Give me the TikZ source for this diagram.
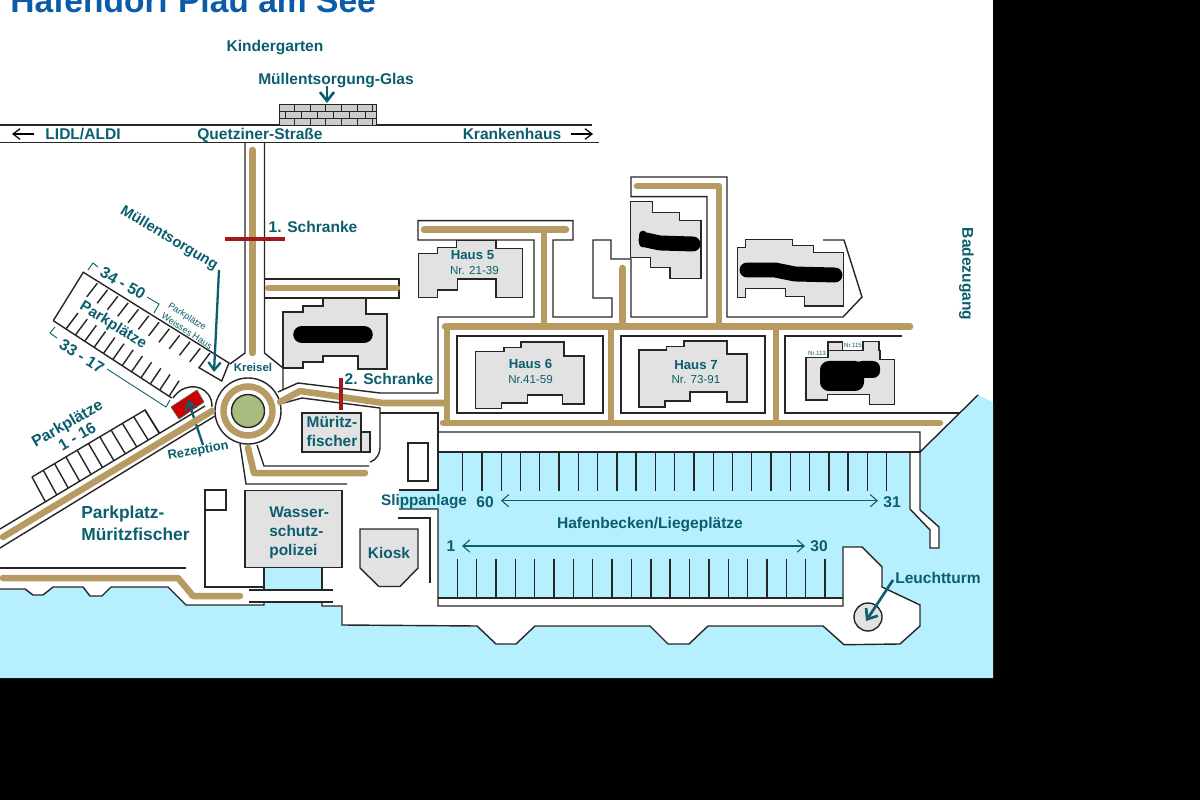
\documentclass[tikz,border=0pt]{standalone}
\usepackage{fontspec}
\setmainfont{Liberation Sans}
\usetikzlibrary{arrows.meta}
\definecolor{wat}{HTML}{B6F0FF}
\definecolor{teal2}{HTML}{0B5E6E}
\definecolor{bei}{HTML}{B89B63}
\definecolor{gry}{HTML}{E2E2E2}
\definecolor{titleblue}{HTML}{0B5CA8}
\definecolor{rd}{HTML}{A01A1A}
\definecolor{grn}{HTML}{A9BC80}
\newcommand{\fs}[1]{\fontsize{#1}{#1}\selectfont}
\tikzset{
  ln/.style={draw=black!85,line width=0.8pt,line join=miter},
  bld/.style={draw=black!85,fill=gry,line width=0.8pt},
  road/.style={draw=bei,line width=3.7pt,line cap=round,line join=round},
  bar/.style={draw=rd,line width=1.9pt},
  blob/.style={draw=black,line cap=round,line join=round},
  lb/.style={text=teal2,font=\bfseries\fs{8.85},inner sep=0pt,text height=6.3pt,text depth=0pt},
  lbb/.style={text=teal2,font=\bfseries\fs{9},inner sep=0pt,align=left,text height=6.5pt,text depth=0pt},
  thin/.style={text=teal2,font=\fs{5.2},inner sep=0pt},
  bark/.style={draw=teal2,line width=1.3pt,-{Straight Barb[length=4.5pt,width=7pt]}},
  dim/.style={draw=teal2,line width=0.6pt,{Straight Barb[length=4pt,width=7pt]}-{Straight Barb[length=4pt,width=7pt]}},
  tarrow/.style={draw=teal2,line width=1.5pt,-{Straight Barb[length=5pt,width=8pt]}},
  blk/.style={draw=black,line width=0.7pt,-{Straight Barb[length=4pt,width=6pt]}},
  brk/.style={draw=teal2,line width=0.5pt}
}
\begin{document}
\begin{tikzpicture}[x=0.02cm,y=-0.02cm]
\clip (0,0) rectangle (1200,800);
\fill[black] (0,0) rectangle (1200,800);
\fill[white] (0,0) rectangle (993,678);
% water
\fill[wat] (0,589)--(25,589)--(33,595)--(43,595)--(53,587)--(83,587)--(90,596)--(102,596)--(111,587)--(168,587)--(186,605)--(264,605)--(264,567)--(322,567)--(322,606)--(342,606)--(342,625)--(477,626)--(496,644)--(516,644)--(535,626)--(650,626)--(668,644)--(689,644)--(708,626)--(823,626)--(844,644.7)--(900,644)--(920,626)--(920,605)--(882,587)--(882,567)--(862,547)--(843,547)--(843,598)--(438,598)--(438,509)--(399,509)--(399,490)--(438,490)--(438,452)--(910,452)--(910,509)--(930,530)--(930,548)--(939,548)--(939,527)--(920,510)--(920,452)--(978,395)--(993,402)--(993,678)--(0,678)--cycle;
\fill[white] (249,590) rectangle (333,602);
% shore outlines
\draw[ln] (0,589)--(25,589)--(33,595)--(43,595)--(53,587)--(83,587)--(90,596)--(102,596)--(111,587)--(168,587)--(186,605)--(264,605)--(264,602);
\draw[ln] (322,602)--(322,606)--(342,606)--(342,625)--(477,626)--(496,644)--(516,644)--(535,626)--(650,626)--(668,644)--(689,644)--(708,626)--(823,626)--(844,644.7)--(900,644)--(920,626)--(920,605)--(882,587)--(882,567)--(862,547)--(843,547)--(843,606)--(438,606)--(438,509)--(399,509);
\draw[ln] (843,598)--(438,598);
\draw[ln] (399,490)--(438,490)--(438,412);
\draw[ln] (438,452)--(920,452);
\draw[ln] (438,432)--(920,432)--(920,452)--(978,395);
\draw[ln] (910,452)--(910,509)--(930,530)--(930,548)--(939,548)--(939,527)--(920,510)--(920,452);
\draw[ln] (249,590)--(333,590) (249,602)--(333,602) (264,567)--(264,590) (322,567)--(322,590);
% posts
\foreach \k in {0,...,22} \draw[ln] ({462.7+19.27*\k},452)--({462.7+19.27*\k},490.5);
\foreach \k in {0,...,19} \draw[ln] ({457.3+19.35*\k},559)--({457.3+19.35*\k},598);
% top street
\draw[ln] (0,125)--(592,125);
\draw[ln] (0,142.5)--(599,142.5);
\fill[gray!40] (279,104) rectangle (376.5,125);
\draw[ln,line width=0.5pt] (279,104) rectangle (376.5,125) (279,111)--(376.5,111) (279,118)--(376.5,118);
\foreach \x in {294,310,325,341,357,372} \draw[ln,line width=0.5pt] (\x,104)--(\x,111) (\x,118)--(\x,125);
\foreach \x in {285,301,317,333,349,365} \draw[ln,line width=0.5pt] (\x,111)--(\x,118);
% outlines of land plots
\draw[ln] (245,143)--(245,353)--(230,364);
\draw[ln] (264.5,143)--(264.5,353)--(283,368)--(283,389);
\draw[ln] (264.5,279)--(399,279)--(399,298)--(264.5,298);
\draw[ln] (278,392)--(298,383)--(380,393)--(438,393)--(438,317)--(534,317)--(534,240)--(418,240)--(418,220.7)--(573,220.7)--(573,240)--(553,240)--(553,317)--(612,317)--(612,298)--(593,298)--(593,240)--(611,240)--(611,259)--(631,259)--(631,317)--(707,317)--(707,196.6)--(631,196.6)--(631,177)--(727,177)--(727,317)--(843,317)--(862,297)--(844,240)--(823,240);
\draw[ln] (280,404)--(302,398)--(380,408)--(380,448) arc[start angle=0,end angle=70,radius=15] ;
\draw[ln] (380,413)--(438,413);
\draw[ln] (369,466)--(264,466)--(257,445);
\draw[ln] (240,444)--(246,484)--(347,484);
\draw[ln] (408,443) rectangle (428,481);
\draw[ln] (205,490) rectangle (226,510);
\draw[ln] (205,510)--(205,587)--(264,587);
\draw[ln] (0,568)--(186,568);
\draw[ln] (398,518)--(430,518)--(430,583);
\draw[ln] (457,336) rectangle (603,413);
\draw[ln] (621,336) rectangle (765,413);
\draw[ln] (902,336)--(785,336)--(785,413)--(960,413);
% diagonal road outlines
\draw[ln] (0,529)--(205,406);
\draw[ln] (0,548)--(215,416);
% parking 1-16
\draw[ln] (32,477)--(145,410)--(159,433);
\foreach \t in {0,...,10} \draw[ln] ({32+11.3*\t},{477-6.7*\t})--({45.5+11.4*\t},{502-6.9*\t});
% parking 34-50 / 33-17
\draw[ln] (53.3,320.7)--(83.3,272.3)--(229,363)--(221.7,381)--(199,367.7)--(210,353);
\draw[ln] (53.3,320.7)--(171.7,398);
\foreach \t in {0,...,10} \draw[ln] ({97.3+10.3*\t},{283.3+6.5*\t})--({86.8+10.3*\t},{296.8+6.5*\t});
\foreach \t in {0,...,11} \draw[ln] ({66+9.4*\t},{329+6.06*\t})--({78+9.2*\t},{313+6.15*\t});
\draw[ln] (173,398) .. controls (178,391) and (183,388) .. (190,387) .. controls (198,386) and (204,389) .. (208,394) .. controls (211,398) and (212,402) .. (212,407);
% brackets
\draw[brk] (88,270)--(93,263)--(98,267) (147,297)--(159,304)--(154,313);
\draw[brk] (55,327)--(50,333)--(57,338) (107,369)--(166,407)--(170,400);
% rezeption
\fill[red!80!black,draw=black!60,line width=0.4pt] (171,407)--(197,390)--(204,402)--(179,419)--cycle;
\draw[bark] (203,445)--(188,400);
% roundabout
\draw[ln,fill=white] (248,411) circle (33);
\draw[bei,line width=3.7pt] (248,411) circle (24.5);
\draw[ln,fill=grn] (248,411) circle (16.5);
% roads
\draw[road] (252.5,150)--(252.5,353);
\draw[road] (268,288)--(397,288);
\draw[road] (280,402)--(300,391)--(383,403)--(445,403);
\draw[road] (248,448)--(254,473)--(365,473);
\draw[road] (3,537)--(212,411);
\draw[road] (3,578)--(178,578)--(193,596)--(240,596);
\draw[road] (424,229.7)--(566,229.7);
\draw[road] (544,230)--(544,326.7);
\draw[road] (445,326.7)--(910,326.7);
\draw[road] (447,326.7)--(447,423);
\draw[road] (443,423)--(940,423);
\draw[road] (611,326.7)--(611,423);
\draw[road] (622.7,268)--(622.7,326.7);
\draw[road] (637,186)--(719,186)--(719,326.7);
\draw[road] (776,326.7)--(776,423);
\draw[bar] (225,239)--(285,239);
\draw[bar] (341,378)--(341,410);
% buildings
\draw[bld] (283,312)--(303,312)--(303,306)--(323,306)--(323,298)--(366,298)--(366,314)--(387,314)--(387,369)--(358,369)--(358,356)--(323,356)--(323,362)--(303,362)--(303,368)--(283,368)--cycle;
\draw[blob,line width=10pt] (302,334.5)--(364,334.5);
\draw[bld] (418.3,253.3)--(437.7,253.3)--(437.7,247.3)--(456.7,247.3)--(456.7,240.7)--(496,240.7)--(496,248.3)--(522.3,248.3)--(522.3,297.3)--(496,297.3)--(496,279)--(457.3,279)--(457.3,290)--(437.7,290)--(437.7,297.3)--(418.3,297.3)--cycle;
\draw[bld] (475.7,351.7)--(504,351.7)--(504,347.3)--(521,347.3)--(521,342)--(564,342)--(564,356)--(584,356)--(584,404)--(562.7,404)--(562.7,395)--(527.3,395)--(527.3,403)--(501.7,403)--(501.7,408.3)--(475.7,408.3)--cycle;
\draw[bld] (639,350)--(666.7,350)--(666.7,346.7)--(684,346.7)--(684,341)--(727,341)--(727,354)--(747,354)--(747,402)--(727,402)--(727,392)--(690,392)--(690,401)--(665,401)--(665,407)--(639,407)--cycle;
\draw[bld] (630.7,201.7)--(652.7,201.7)--(652.7,212.3)--(679.3,212.3)--(679.3,220.7)--(701,220.7)--(701,278.7)--(670,278.7)--(670,267.7)--(650.7,267.7)--(650.7,257.3)--(630.7,257.3)--cycle;
\draw[blob,line width=8.5pt] (646,240)--(660,243)--(693,244);
\draw[blob,line width=5pt] (643,235)--(643,243);
\draw[bld] (737.7,247.3)--(745.7,247.3)--(745.7,239.3)--(792.7,239.3)--(792.7,245.7)--(813.3,245.7)--(813.3,252.7)--(843.3,252.7)--(843.3,306)--(804.7,306)--(804.7,296.7)--(785.7,296.7)--(785.7,288.3)--(745.7,288.3)--(745.7,297.7)--(737.7,297.7)--cycle;
\draw[blob,line width=8.5pt] (747,270)--(775,270)--(795,274)--(835,275);
\draw[bld] (806,357.3)--(828,357.3)--(828,342)--(842.3,342)--(842.3,350.3)--(863,350.3)--(863,341.3)--(879,341.3)--(879,350.3)--(880,350.3)--(880,359.3)--(894.3,359.3)--(894.3,404.3)--(869.3,404.3)--(869.3,394.7)--(827.7,394.7)--(827.7,400)--(806,400)--cycle;
\draw[ln] (828,350.3)--(842.3,350.3);
\fill[black,rounded corners=5pt] (820,361) rectangle (864,391);
\fill[black,rounded corners=4pt] (855,361) rectangle (880,378);
\draw[bld] (361,432) rectangle (370,452);
\draw[bld] (302,413) rectangle (361,452);
\draw[bld] (245,490.5) rectangle (342,567.5);
\draw[bld] (360,529)--(418,529)--(418,568)--(400,586.5)--(379,586.5)--(360,568)--cycle;
\draw[ln,fill=gry] (868,617) circle (14);
% arrows
\draw[tarrow] (327,86)--(327,103);
\draw[blk] (34,134)--(12,134);
\draw[blk] (571,134)--(593,134);
\draw[bark] (219,270)--(214,372);
\draw[tarrow] (893,580)--(866,621);
\draw[dim] (501,500.7)--(878,500.7);
\draw[dim] (462,546)--(805,546);
% labels
\node[anchor=base west,text=titleblue,font=\bfseries\fs{19.1},inner sep=0pt] (title) at (10,13) {Hafendorf Plau am See};
\node[lb] (kg) at (275,46) {Kindergarten};
\node[lb] (mg) at (336,78.5) {Müllentsorgung-Glas};
\node[lb] (lidl) at (83,134) {LIDL/ALDI};
\node[lb] (qs) at (260,134) {Quetziner-Straße};
\node[lb] (kh) at (512,134) {Krankenhaus};
\node[lb] (s1) at (313,227) {1. Schranke};
\node[lb] (s2) at (389,379) {2. Schranke};
\node[lb,font=\bfseries\fs{8.4},rotate=-31] (me) at (170,237) {Müllentsorgung};
\node[lb,font=\bfseries\fs{6.5},text height=4.7pt] (kr) at (253,367) {Kreisel};
\node[thin,rotate=-33] (pw1) at (187,317) {Parkplätze};
\node[thin,rotate=-33] (pw2) at (187,331) {Weisses Haus};
\node[lbb,rotate=-30] (n34) at (123,283) {34 - 50};
\node[lbb,font=\bfseries\fs{8.6},rotate=-32] (pk) at (114,324) {Parkplätze};
\node[lbb,rotate=-32] (n33) at (82,356) {33 - 17};
\node[lbb,rotate=30] (p1) at (67,423) {Parkplätze};
\node[lbb,rotate=30] (p2) at (77,436) {1 - 16};
\node[lb,font=\bfseries\fs{7.3},text height=5.2pt,rotate=10] (rz) at (198,450) {Rezeption};
\node[lb,font=\bfseries\fs{8.8}] (mf1) at (332,421.5) {Müritz-};
\node[lb,font=\bfseries\fs{8.8}] (mf2) at (332,441) {fischer};
\node[lbb,anchor=west,font=\bfseries\fs{9.9}] (pm1) at (81,513) {Parkplatz-};
\node[lbb,anchor=west,font=\bfseries\fs{9.9}] (pm2) at (81,535) {Müritzfischer};
\node[lb,anchor=west,font=\bfseries\fs{8.8}] (wa) at (269,512) {Wasser-};
\node[lb,anchor=west,font=\bfseries\fs{8.8}] (wb) at (269,531) {schutz-};
\node[lb,anchor=west,font=\bfseries\fs{8.8}] (wc) at (269,549.5) {polizei};
\node[lb,font=\bfseries\fs{8.8}] (ki) at (389,552.5) {Kiosk};
\node[lb,font=\bfseries\fs{8.7}] (sl) at (424,500) {Slippanlage};
\node[lb,font=\bfseries\fs{7.5},text height=5.4pt] (h5) at (472.5,255) {Haus 5};
\node[thin,font=\fs{6.6}] (h5n) at (474.5,270.5) {Nr. 21-39};
\node[lb,font=\bfseries\fs{7.5},text height=5.4pt] (h6) at (530.5,364) {Haus 6};
\node[thin,font=\fs{6.6}] (h6n) at (530.5,379.5) {Nr.41-59};
\node[lb,font=\bfseries\fs{7.5},text height=5.4pt] (h7) at (696,365) {Haus 7};
\node[thin,font=\fs{6.6}] (h7n) at (696,379.5) {Nr. 73-91};
\node[thin,font=\fs{3.5}] (n113) at (817,353) {Nr.113};
\node[thin,font=\fs{3.5}] (n115) at (853,345) {Nr.115};
\node[lb] (n60) at (485,502) {60};
\node[lb] (n31) at (892,502) {31};
\node[lb] (n1) at (451,546) {1};
\node[lb] (n30) at (819,546) {30};
\node[lb] (hb) at (650,523) {Hafenbecken/Liegeplätze};
\node[lb] (lt) at (938,578) {Leuchtturm};
\node[lb,rotate=-90] (bz) at (968,274) {Badezugang};
\end{tikzpicture}
\end{document}
